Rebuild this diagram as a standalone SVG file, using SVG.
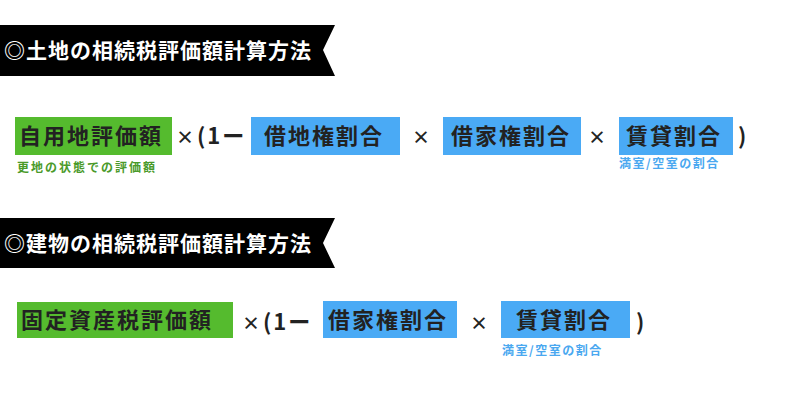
<svg xmlns="http://www.w3.org/2000/svg" width="800" height="400" viewBox="0 0 800 400">
<style>
.t{font-family:"Noto Sans CJK JP",sans-serif;font-weight:bold;font-size:22px;fill:#222;letter-spacing:2px}
.x{font-family:"Noto Sans CJK JP",sans-serif;font-weight:bold;font-size:18px;fill:#222}
.h{font-family:"Noto Sans CJK JP",sans-serif;font-weight:bold;font-size:21px;fill:#fff;letter-spacing:1px}
.g{fill:#55bb2e}.b{fill:#4aaaf5}
.sg{font-family:"Noto Sans CJK JP",sans-serif;font-weight:bold;font-size:12px;fill:#4a9a2a;letter-spacing:2px}
.sb{font-family:"Noto Sans CJK JP",sans-serif;font-weight:bold;font-size:12px;fill:#4aa8f0;letter-spacing:1.5px}
</style>
<g id="banner1"><polygon points="0,25 335,25 323,50 335,76 0,76" fill="#000"/><text class="h" x="4" y="58">◎土地の相続税評価額計算方法</text></g>
<g id="row1">
<rect class="g" x="15" y="117" width="157" height="38"/><text class="t" x="19" y="144">自用地評価額</text>
<text class="x" x="176" y="144">×</text><text class="t" x="197" y="144" letter-spacing="0">(1ー</text>
<rect class="b" x="251" y="117" width="149" height="38"/><text class="t" x="264" y="144">借地権割合</text>
<text class="x" x="412" y="144">×</text>
<rect class="b" x="443" y="117" width="138" height="38"/><text class="t" x="451" y="144">借家権割合</text>
<text class="x" x="588" y="144">×</text>
<rect class="b" x="619" y="117" width="114" height="38"/><text class="t" x="626" y="144">賃貸割合</text>
<text class="t" x="738" y="144">)</text>
<text class="sg" x="17" y="172">更地の状態での評価額</text>
<text class="sb" x="619" y="168">満室/空室の割合</text>
</g>
<g id="banner2"><polygon points="0,218 335,218 323,243 335,268 0,268" fill="#000"/><text class="h" x="4" y="251">◎建物の相続税評価額計算方法</text></g>
<g id="row2">
<rect class="g" x="17" y="302" width="216" height="36"/><text class="t" x="21" y="328" letter-spacing="3">固定資産税評価額</text>
<text class="x" x="242" y="330">×</text><text class="t" x="263" y="330" letter-spacing="0">(1ー</text>
<rect class="b" x="323" y="301" width="134" height="37"/><text class="t" x="328" y="328">借家権割合</text>
<text class="x" x="470" y="330">×</text>
<rect class="b" x="501" y="301" width="129" height="37"/><text class="t" x="516" y="328">賃貸割合</text>
<text class="t" x="636" y="330">)</text>
<text class="sb" x="502" y="355">満室/空室の割合</text>
</g>
</svg>
